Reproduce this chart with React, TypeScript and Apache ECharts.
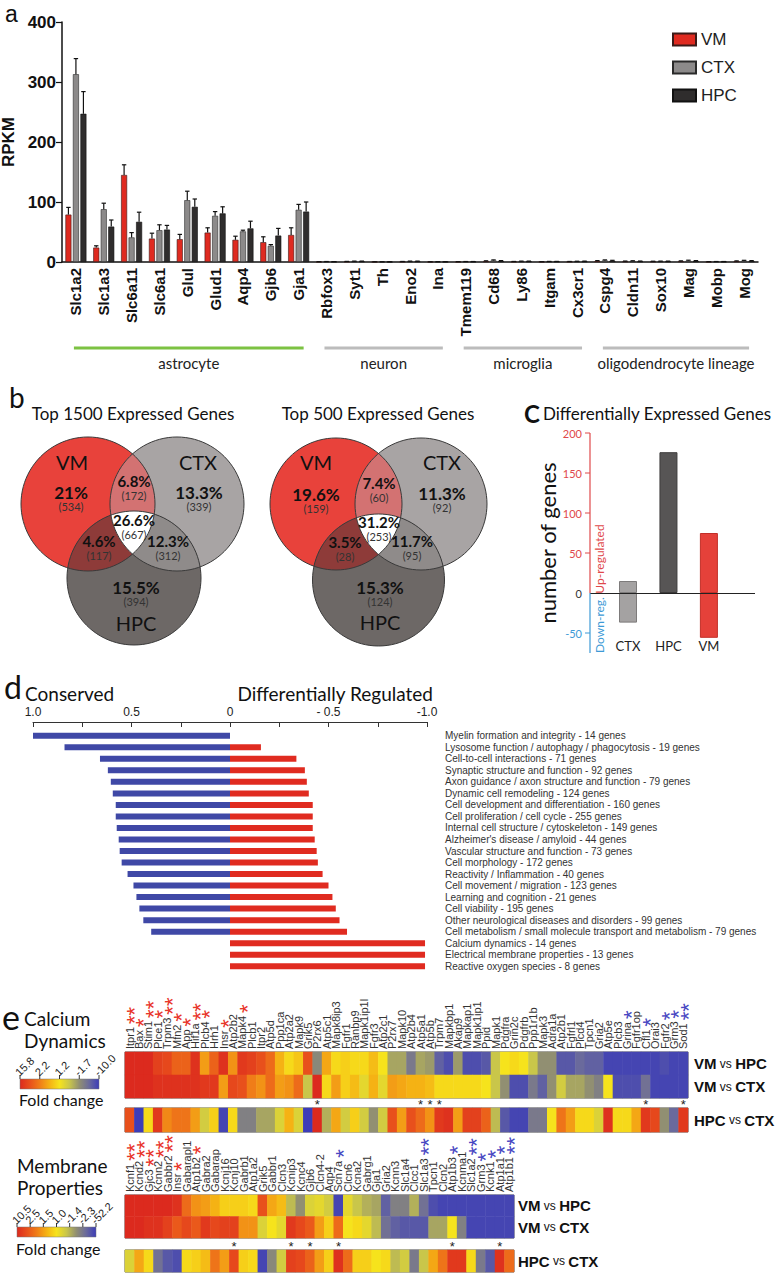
import React, { useEffect, useRef } from 'react';
import * as echarts from 'echarts';

const AR = '"Liberation Sans", Arial, sans-serif';
const MY = 'Lato, "Open Sans", sans-serif';
const NR = '"Liberation Sans Narrow", "Liberation Sans", Arial, sans-serif';

// ---------- panel a ----------
const genesA = ['Slc1a2','Slc1a3','Slc6a11','Slc6a1','Glul','Glud1','Aqp4','Gjb6','Gja1','Rbfox3','Syt1','Th','Eno2','Ina','Tmem119','Cd68','Ly86','Itgam','Cx3cr1','Cspg4','Cldn11','Sox10','Mag','Mobp','Mog'];
const vmRpkm = [79,24,145,39,38,49,37,33,45,0.3,0.6,0.2,0.5,0.2,0.3,1.2,0.5,0.3,0.5,1.5,1,0.8,1.2,0.3,1.2];
const vmErr = [12,3,17,9,8,8,6,9,12,0.3,0.4,0.2,0.4,0.2,0.3,0.8,0.4,0.3,0.4,0.8,0.6,0.5,0.7,0.3,0.7];
const ctxRpkm = [313,88,41,53,103,77,51,27,87,0.5,1,0.2,1,0.3,0.5,2.5,1,0.6,0.8,2.5,1.5,1,2,0.5,2];
const ctxErr = [26,10,8,9,15,7,2,2,9,0.3,0.5,0.2,0.5,0.2,0.3,1,0.5,0.4,0.5,1,0.6,0.5,1,0.3,0.8];
const hpcRpkm = [247,59,67,54,92,81,56,44,84,0.4,1,0.2,1,0.3,0.5,1.5,1,0.6,1,2,1,1,1.5,0.5,1.5];
const hpcErr = [37,11,16,7,13,11,12,12,16,0.3,0.5,0.2,0.5,0.2,0.3,0.8,0.5,0.4,0.5,0.8,0.6,0.5,0.8,0.3,0.8];
const cellGroups = [
  { name: 'astrocyte', from: 0, to: 8, color: '#7cc242' },
  { name: 'neuron', from: 9, to: 13, color: '#bcbcbc' },
  { name: 'microglia', from: 14, to: 18, color: '#bcbcbc' },
  { name: 'oligodendrocyte lineage', from: 19, to: 24, color: '#bcbcbc' },
];

// ---------- panel b ----------
const venn1Pct = ['21%', '13.3%', '15.5%', '6.8%', '4.6%', '12.3%', '26.6%'];
const venn1Cnt = ['(534)', '(339)', '(394)', '(172)', '(117)', '(312)', '(667)'];
const venn2Pct = ['19.6%', '11.3%', '15.3%', '7.4%', '3.5%', '11.7%', '31.2%'];
const venn2Cnt = ['(159)', '(92)', '(124)', '(60)', '(28)', '(95)', '(253)'];

// ---------- panel c ----------
const degCats = ['CTX', 'HPC', 'VM'];
const degUp = [15, 176, 75];
const degDown = [-37, -1, -56];
const degTicks = [-50, 0, 50, 100, 150, 200];

// ---------- panel d ----------
const goTerms = [
  'Myelin formation and integrity - 14 genes',
  'Lysosome function / autophagy / phagocytosis - 19 genes',
  'Cell-to-cell interactions - 71 genes',
  'Synaptic structure and function - 92 genes',
  'Axon guidance / axon structure and function - 79 genes',
  'Dynamic cell remodeling - 124 genes',
  'Cell development and differentiation - 160 genes',
  'Cell proliferation / cell cycle - 255 genes',
  'Internal cell structure / cytoskeleton - 149 genes',
  "Alzheimer's disease / amyloid - 44 genes",
  'Vascular structure and function - 73 genes',
  'Cell morphology - 172 genes',
  'Reactivity / Inflammation - 40 genes',
  'Cell movement / migration - 123 genes',
  'Learning and cognition - 21 genes',
  'Cell viability - 195 genes',
  'Other neurological diseases and disorders - 99 genes',
  'Cell metabolism / small molecule transport and metabolism - 79 genes',
  'Calcium dynamics - 14 genes',
  'Electrical membrane properties - 13 genes',
  'Reactive oxygen species - 8 genes',
];
const goConserved = [1.0, 0.84, 0.66, 0.62, 0.605, 0.595, 0.58, 0.58, 0.575, 0.565, 0.56, 0.55, 0.52, 0.49, 0.475, 0.46, 0.44, 0.40, 0, 0, 0];
const goDiff = [0, -0.157, -0.337, -0.38, -0.39, -0.40, -0.42, -0.42, -0.42, -0.43, -0.44, -0.446, -0.47, -0.50, -0.52, -0.537, -0.556, -0.594, -0.99, -0.99, -0.99];

// ---------- panel e (levels on colour scale: 0 red ... 4 blue) ----------
const caGenes = ['Itpr1','Bax','Stim1','Plce1','Trpm3','Mfn2','App','Hif1a','Plcb4','Hrh1','Insr','Atp2b2','Mapk4','Plcb1','Itpr2','Atp5d','Ppp1ca','Atp2a2','Mapk9','Grik5','P2rx6','Atp5c1','Mapk8ip3','Fgfr1','Ranbp9','Mapk1ip1l','Fgfr3','Atp2c1','P2rx7','Mapk10','Atp2b4','Atp5a1','Atp5b','Trpm7','Mapkbp1','Akap9','Mapkap1','Mapk1ip1','Ppid','Mapk1','Pdgfra','Grin2c','Pdgfrb','Ppp1r1b','Mapk3','Adra1a','Atp2b1','Fgfrl1','Plcd4','Tpcn1','Gria2','Atp5e','Plcb3','Grina','Fgfr1op','Cfl1','Orai3','Fgfr2','Grm3','Sod1'];
const caStars = [2,1,2,1,2,1,1,2,1,0,1,0,1,0,0,0,0,0,0,0,0,0,0,0,0,0,0,0,0,0,0,0,0,0,0,0,0,0,0,0,0,0,0,0,0,0,0,0,0,0,0,0,0,-1,0,-1,0,-1,-1,-2];
const caVmHpc = [0,0,0,0.3,0.4,0.7,0.7,0.1,1.3,0.7,0.1,1.2,0.2,0.3,0.5,0.8,1.5,1.9,1.7,0.5,3.1,1.4,1.9,1.8,1.9,1.9,1.6,2,2.8,2.8,3.3,2.8,2.9,3.6,3.8,2.9,3.8,3.8,3.7,2.5,2,1.9,2,2.5,3,3,3.7,3.7,3.5,3.6,3.6,3.9,3.9,3.9,3.9,3.9,3.9,3.8,3.9,3.9];
const caVmCtx = [0,0,0,0.1,0.1,0.1,0.1,0.1,0.2,0.2,1.3,0.4,0.5,1.0,1.2,0.8,1.3,1.2,0.8,2.5,0,1.9,1.3,1.8,1.6,2.2,1.5,2.2,1.3,1.4,1.5,1.5,1.6,1.9,1.9,1.9,1.9,1.9,2,2.5,3,3.8,3.8,3.3,3.6,3,2.4,2.8,2.8,3,3.2,2,3.8,3.8,3.8,3.4,3.9,3.9,3.9,3.9];
const caHpcCtx = [0.5,4,1.9,0.2,1.1,0.9,0.9,1.3,2.4,1.8,3.9,1.9,3.2,3.2,2.8,2.8,2.3,1.5,2.3,4,0,2.7,1.4,2.4,1.8,2.4,3,2.4,0.5,1.3,0.5,0.8,1.2,0.2,0.1,1.3,0.3,0.3,0.7,2.6,3.7,3.9,3.9,3.3,3.3,2,0.9,1.3,1.9,1.9,2.3,0.1,1.9,1.9,1.4,0.2,0.4,3,3.5,0.2];
const caSig = ['P2rx6', 'Atp5a1', 'Atp5b', 'Trpm7', 'Cfl1', 'Sod1'];
const caLegend = ['15.8', '2.2', '1.2', '-1.7', '-10.0'];

const memGenes = ['Kcnf1','Kcnd2','Gjc3','Kcnn2','Gabbr2','Insr','Gabarapl1','Atp1b2','Gabra2','Gabarap','Kcnj16','Kcnj10','Gabrb1','Atp1a2','Grik5','Gabbr1','Clcn3','Kcnip3','Kcnc4','Gjb6','Clcn4-2','Aqp4','Scn7a','Clcn6','Kcna2','Gabrg1','Gja1','Gria2','Kcnn3','Slc1a4','Clcc1','Slc1a3','Tpcn1','Clcn2','Atp1b3','Kcnma1','Slc1a2','Grm3','Kcnk1','Atp1a1','Atp1b1'];
const memStars = [2,2,2,2,2,1,0,1,0,0,0,0,0,0,0,0,0,0,0,0,0,0,-1,0,0,0,0,0,0,0,0,-2,0,0,-1,0,-2,-1,-1,-1,-2];
const memVmHpc = [0,0,0,0,0,0.1,0.8,1.2,1.3,1.5,1.8,1.8,1.8,1.9,0.5,1.4,1.6,2.6,3.0,2.3,2.2,2.4,3.9,2.2,2.5,2.7,2.8,3.6,3.2,3.2,2.7,3.4,3.8,3.9,3.9,3.9,3.9,3.9,3.9,3.9,3.9];
const memVmCtx = [0,0,0.1,0.1,0.3,0.6,0.4,0.6,0.2,0.4,0.3,0.3,1.2,1.2,2.3,2,2.2,0.2,0.4,0.6,1.3,1.8,0.8,2,1.9,2.2,2.6,3.4,3.6,3.7,3.7,3.7,2.8,2.8,2,3.2,3.9,3.9,3.9,3.9,3.9];
const memHpcCtx = [2.3,1.4,1.9,3.4,3.7,3.8,1.9,1.8,1.6,0.9,1.3,0.4,1.8,1.9,3.9,3.1,2.4,0.3,0.4,0.7,1.3,1.8,0.1,0.8,1.8,1.8,2,1.9,2.6,2.4,3.3,2.5,1.4,0.9,0.2,0.2,1.9,3.3,3.7,0.1,0.8];
const memSig = ['Kcnj10', 'Kcnip3', 'Gjb6', 'Scn7a', 'Atp1b3', 'Atp1a1'];
const memLegend = ['10.5', '2.5', '1.5', '1.0', '-1.4', '-2.3', '-52.2'];

const heatColors = ['#dc2a1e', '#e8501c', '#f07d18', '#f5b214', '#f6e31c', '#c9c64a', '#918f72', '#6a6a9c', '#3c3cb8'];
const GENE_FONT = `11px ${NR}`;

type Circ = { cx: number; cy: number; r: number };
function regionPoints(cs: Circ[]): number[][] {
  const pts: number[][] = [];
  cs.forEach((c, i) => {
    for (let k = 0; k < 720; k++) {
      const a = (k / 720) * Math.PI * 2;
      const x = c.cx + c.r * Math.cos(a);
      const y = c.cy + c.r * Math.sin(a);
      if (cs.every((o, j) => j === i || Math.hypot(x - o.cx, y - o.cy) <= o.r + 0.01)) pts.push([x, y]);
    }
  });
  const mx = pts.reduce((s, p) => s + p[0], 0) / pts.length;
  const my = pts.reduce((s, p) => s + p[1], 0) / pts.length;
  pts.sort((p, q) => Math.atan2(p[1] - my, p[0] - mx) - Math.atan2(q[1] - my, q[0] - mx));
  return pts;
}

function txt(x: number, y: number, text: string, font: string, fill = '#111', align = 'center', vAlign = 'middle', rotation = 0): any {
  return {
    type: 'text', x, y, rotation, silent: true, z: 50,
    style: { text, font, fill, textAlign: align, textVerticalAlign: vAlign, align, verticalAlign: vAlign },
  };
}

function venn(circles: Circ[], pct: string[], cnt: string[], pos: number[][], names: number[][]): any[] {
  const [vm, ctx, hpc] = circles;
  const els: any[] = [];
  const fills = ['#e8423b', '#a8a4a4', '#6d6866'];
  circles.forEach((c, i) => els.push({ type: 'circle', shape: { cx: c.cx, cy: c.cy, r: c.r }, style: { fill: fills[i], stroke: 'none' }, z: 10 }));
  const regions: [Circ[], string][] = [[[vm, ctx], '#d37272'], [[vm, hpc], '#8e3b39'], [[ctx, hpc], '#8f8b8a'], [[vm, ctx, hpc], '#ffffff']];
  regions.forEach(([cs, col]) => els.push({ type: 'polygon', shape: { points: regionPoints(cs) }, style: { fill: col, stroke: 'none' }, z: 11 }));
  circles.forEach((c) => els.push({ type: 'circle', shape: { cx: c.cx, cy: c.cy, r: c.r }, style: { fill: 'none', stroke: '#3a3a3a', lineWidth: 1 }, z: 12 }));
  pct.forEach((p, i) => {
    const big = i < 3;
    els.push(txt(pos[i][0], pos[i][1], p, `bold ${big ? 17 : 15}px ${MY}`, '#111'));
    els.push(txt(pos[i][0], pos[i][1] + 14.5, cnt[i], `11px ${MY}`, '#333'));
  });
  ['VM', 'CTX', 'HPC'].forEach((n, i) => els.push(txt(names[i][0], names[i][1], n, `20px ${MY}`, '#111')));
  return els;
}

const rowRich = {
  b: { fontSize: 15, fontWeight: 'bold', fontFamily: AR, color: '#111' },
  n: { fontSize: 12, fontFamily: AR, color: '#111' },
};
const rowLabel = (v: string) => {
  const p = v.split(' ');
  return `{b|${p[0]}} {n|${p[1]}} {b|${p[2]}}`;
};

function buildOption(): any {
  const gridBase = { outerBoundsMode: 'none', containLabel: false };
  const heatGrid = { ...gridBase, show: true, borderColor: '#555', borderWidth: 1, backgroundColor: 'transparent' };
  const errData: number[][] = [];
  [[vmRpkm, vmErr], [ctxRpkm, ctxErr], [hpcRpkm, hpcErr]].forEach(([vals, errs], k) => {
    vals.forEach((v, i) => errData.push([i, v, errs[i], k]));
  });
  const degColors = ['#a4a2a2', '#575555', '#e5413a'];
  const degBorders = ['#7d7b7b', '#3e3c3c', '#c22f29'];
  const hiddenCat = { axisLine: { show: false }, axisTick: { show: false }, splitLine: { show: false } };

  return {
    animation: false,
    backgroundColor: '#ffffff',
    legend: {
      data: ['VM', 'CTX', 'HPC'], orient: 'vertical', left: 667, top: 26,
      itemWidth: 23, itemHeight: 12, itemGap: 11, icon: 'rect',
      textStyle: { fontFamily: AR, fontSize: 17, color: '#222' },
    },
    visualMap: {
      type: 'continuous', min: 0, max: 4, seriesIndex: [8, 9, 10, 11], dimension: 2, show: false,
      inRange: { color: heatColors },
    },
    grid: [
      { ...gridBase, left: 62, top: 22, width: 696, height: 240 },
      { ...gridBase, left: 590, top: 433, width: 165, height: 220 },
      { ...gridBase, left: 33, top: 730, width: 394, height: 242 },
      { ...heatGrid, left: 125, top: 1052, width: 563, height: 46 },
      { ...heatGrid, left: 125, top: 1108, width: 563, height: 24 },
      { ...heatGrid, left: 125, top: 1195, width: 389, height: 43 },
      { ...heatGrid, left: 125, top: 1250, width: 389, height: 22 },
    ],
    xAxis: [
      {
        gridIndex: 0, type: 'category', data: genesA,
        axisLine: { lineStyle: { color: '#111', width: 1.5 } },
        axisTick: { alignWithLabel: true, length: 5, lineStyle: { color: '#111', width: 1.2 } },
        axisLabel: { rotate: 90, interval: 0, fontFamily: AR, fontWeight: 'bold', fontSize: 15, color: '#111', margin: 6 },
      },
      {
        gridIndex: 1, type: 'value', min: -0.94, max: 3.14, ...hiddenCat,
        axisLabel: { customValues: [0, 1, 2], formatter: (v: number) => degCats[Math.round(v)] ?? '', margin: -14, fontFamily: MY, fontSize: 13, color: '#222' },
      },
      {
        gridIndex: 2, type: 'value', position: 'top', inverse: true, min: -1, max: 1, interval: 0.25, offset: 8,
        axisLine: { show: true, lineStyle: { color: '#333', width: 1 } },
        axisTick: { show: true, inside: true, length: 5, lineStyle: { color: '#333' } },
        splitLine: { show: false },
        axisLabel: {
          margin: 4, fontFamily: AR, fontSize: 12, color: '#222',
          formatter: (v: number) => (({ '1': '1.0', '0.5': '0.5', '0': '0', '-0.5': '- 0.5', '-1': '-1.0' } as any)[String(v)] ?? ''),
        },
      },
      { gridIndex: 3, type: 'category', data: caGenes, position: 'top', ...hiddenCat, axisLabel: { show: false } },
      { gridIndex: 4, type: 'category', data: caGenes, position: 'top', ...hiddenCat, axisLabel: { interval: 0, margin: -3, fontFamily: AR, fontSize: 13, color: '#222', formatter: (v: string) => (caSig.includes(v) ? '*' : '') } },
      { gridIndex: 5, type: 'category', data: memGenes, position: 'top', ...hiddenCat, axisLabel: { show: false } },
      { gridIndex: 6, type: 'category', data: memGenes, position: 'top', ...hiddenCat, axisLabel: { interval: 0, margin: -3, fontFamily: AR, fontSize: 13, color: '#222', formatter: (v: string) => (memSig.includes(v) ? '*' : '') } },
    ],
    yAxis: [
      {
        gridIndex: 0, type: 'value', min: 0, max: 400, interval: 100,
        axisLine: { show: true, lineStyle: { color: '#111', width: 1.5 } },
        axisTick: { show: true, length: 6, lineStyle: { color: '#111', width: 1.2 } },
        splitLine: { show: false },
        axisLabel: { fontFamily: AR, fontWeight: 'bold', fontSize: 17, color: '#111', margin: 6 },
        name: 'RPKM', nameLocation: 'middle', nameGap: 28,
        nameTextStyle: { fontFamily: AR, fontWeight: 'bold', fontSize: 17, color: '#111' },
      },
      {
        gridIndex: 1, type: 'value', min: -75, max: 200,
        axisLine: { show: false }, axisTick: { show: false }, splitLine: { show: false },
        axisLabel: {
          customValues: degTicks, fontFamily: MY, fontSize: 11, margin: 8,
          color: (v: any) => (Number(v) > 0 ? '#e0484a' : Number(v) < 0 ? '#3d9ad6' : '#333'),
        },
        name: 'number of genes', nameLocation: 'middle', nameGap: 22,
        nameTextStyle: { fontFamily: MY, fontSize: 22, color: '#111' },
      },
      {
        gridIndex: 2, type: 'category', data: goTerms, inverse: true, position: 'right', ...hiddenCat,
        axisLabel: { margin: 18, fontFamily: AR, fontSize: 10, color: '#333', align: 'left', interval: 0 },
      },
      { gridIndex: 3, type: 'category', data: ['VM vs HPC', 'VM vs CTX'], inverse: true, position: 'right', ...hiddenCat, axisLabel: { margin: 6, formatter: rowLabel, rich: rowRich } },
      { gridIndex: 4, type: 'category', data: ['HPC vs CTX'], position: 'right', ...hiddenCat, axisLabel: { margin: 6, formatter: rowLabel, rich: rowRich } },
      { gridIndex: 5, type: 'category', data: ['VM vs HPC', 'VM vs CTX'], inverse: true, position: 'right', ...hiddenCat, axisLabel: { margin: 4, formatter: rowLabel, rich: rowRich } },
      { gridIndex: 6, type: 'category', data: ['HPC vs CTX'], position: 'right', ...hiddenCat, axisLabel: { margin: 4, formatter: rowLabel, rich: rowRich } },
    ],
    series: [
      { type: 'bar', name: 'VM', xAxisIndex: 0, yAxisIndex: 0, data: vmRpkm, barWidth: 6, barGap: '25%', itemStyle: { color: '#df2a20', borderColor: '#3b1a18', borderWidth: 0.6 } },
      { type: 'bar', name: 'CTX', xAxisIndex: 0, yAxisIndex: 0, data: ctxRpkm, barWidth: 6, barGap: '25%', itemStyle: { color: '#8c8a8a', borderColor: '#2a2a2a', borderWidth: 0.6 } },
      { type: 'bar', name: 'HPC', xAxisIndex: 0, yAxisIndex: 0, data: hpcRpkm, barWidth: 6, barGap: '25%', itemStyle: { color: '#2f2d2d', borderColor: '#111', borderWidth: 0.6 } },
      {
        type: 'custom', xAxisIndex: 0, yAxisIndex: 0, data: errData, encode: { x: 0, y: 1 }, z: 5,
        renderItem: (params: any, api: any) => {
          const i = api.value(0), v = api.value(1), e = api.value(2), k = api.value(3);
          const base = api.coord([i, v]);
          const top = api.coord([i, v + e]);
          const x = base[0] + (k - 1) * 7.5;
          return {
            type: 'group',
            children: [
              { type: 'line', shape: { x1: x, y1: base[1], x2: x, y2: top[1] }, style: { stroke: '#111', lineWidth: 1.2 } },
              { type: 'line', shape: { x1: x - 2.2, y1: top[1], x2: x + 2.2, y2: top[1] }, style: { stroke: '#111', lineWidth: 1.2 } },
            ],
          };
        },
      },
      {
        type: 'bar', xAxisIndex: 1, yAxisIndex: 1, barWidth: 18, barGap: '-100%',
        data: degUp.map((v, i) => ({ value: [i, v], itemStyle: { color: degColors[i], borderColor: degBorders[i], borderWidth: 1 } })),
        markLine: {
          silent: true, symbol: ['none', 'none'], label: { show: false },
          data: [{ yAxis: 0, lineStyle: { color: '#222', width: 1, type: 'solid' } }],
        },
      },
      {
        type: 'bar', xAxisIndex: 1, yAxisIndex: 1, barWidth: 18, barGap: '-100%',
        data: degDown.map((v, i) => ({ value: [i, v], itemStyle: { color: degColors[i], borderColor: degBorders[i], borderWidth: 1 } })),
      },
      { type: 'bar', xAxisIndex: 2, yAxisIndex: 2, data: goConserved, barWidth: 6, barGap: '-100%', itemStyle: { color: '#3f48a6' } },
      { type: 'bar', xAxisIndex: 2, yAxisIndex: 2, data: goDiff, barWidth: 6, barGap: '-100%', itemStyle: { color: '#e02b20' } },
      { type: 'heatmap', xAxisIndex: 3, yAxisIndex: 3, data: [...caVmHpc.map((v, i) => [i, 0, v]), ...caVmCtx.map((v, i) => [i, 1, v])], itemStyle: { borderWidth: 0 } },
      { type: 'heatmap', xAxisIndex: 4, yAxisIndex: 4, data: caHpcCtx.map((v, i) => [i, 0, v]), itemStyle: { borderWidth: 0 } },
      { type: 'heatmap', xAxisIndex: 5, yAxisIndex: 5, data: [...memVmHpc.map((v, i) => [i, 0, v]), ...memVmCtx.map((v, i) => [i, 1, v])], itemStyle: { borderWidth: 0 } },
      { type: 'heatmap', xAxisIndex: 6, yAxisIndex: 6, data: memHpcCtx.map((v, i) => [i, 0, v]), itemStyle: { borderWidth: 0 } },
    ],
  };
}

function foldLegend(x0: number, y0: number, w: number, labels: string[]): any[] {
  const els: any[] = [];
  els.push({
    type: 'rect', shape: { x: x0, y: y0, width: w, height: 10 }, z: 20,
    style: {
      stroke: '#777', lineWidth: 0.5,
      fill: { type: 'linear', x: 0, y: 0, x2: 1, y2: 0, colorStops: heatColors.map((c, i) => ({ offset: i / (heatColors.length - 1), color: c })) },
    },
  });
  labels.forEach((l, i) => {
    const x = x0 + (i * w) / (labels.length - 1);
    els.push({ type: 'line', shape: { x1: x, y1: y0 - 4, x2: x, y2: y0 }, style: { stroke: '#333', lineWidth: 1 }, z: 20 });
    els.push(txt(x - 3, y0 - 5, l, `11px ${AR}`, '#222', 'left', 'middle', Math.PI / 4));
  });
  return els;
}

function geneLabels(chart: any, axisIndex: number, genes: string[], stars: number[], top: number): any[] {
  const els: any[] = [];
  const ctx = document.createElement('canvas').getContext('2d')!;
  ctx.font = GENE_FONT;
  genes.forEach((g, i) => {
    const x = chart.convertToPixel({ xAxisIndex: axisIndex }, g);
    const y0 = top - 3;
    els.push(txt(x, y0, g, GENE_FONT, '#333', 'left', 'middle', Math.PI / 2));
    const n = Math.abs(stars[i]);
    if (n) {
      const w = ctx.measureText(g).width;
      const col = stars[i] > 0 ? '#e8352b' : '#4747c2';
      els.push(txt(x + 4.8, y0 - w - 3, '*'.repeat(n), `22px ${AR}`, col, 'left', 'middle', Math.PI / 2));
    }
  });
  return els;
}

function buildGraphics(chart: any): any[] {
  const els: any[] = [];
  // panel a
  els.push(txt(5, 14, 'a', `23px ${AR}`, '#111', 'left'));
  cellGroups.forEach((g) => {
    const x1 = chart.convertToPixel({ xAxisIndex: 0 }, genesA[g.from]) - 2;
    const x2 = chart.convertToPixel({ xAxisIndex: 0 }, genesA[g.to]) + 5;
    els.push({ type: 'line', shape: { x1, y1: 348, x2, y2: 348 }, style: { stroke: g.color, lineWidth: 3 }, z: 20 });
    els.push(txt((x1 + x2) / 2, 363, g.name, `15px ${MY}`, '#222'));
  });
  // panel b
  els.push(txt(9, 397, 'b', `28px ${MY}`, '#111', 'left'));
  els.push(txt(133, 413, 'Top 1500 Expressed Genes', `17px ${MY}`, '#111'));
  els.push(txt(378, 413, 'Top 500 Expressed Genes', `17px ${MY}`, '#111'));
  els.push(...venn(
    [{ cx: 88, cy: 504, r: 67 }, { cx: 177, cy: 504, r: 67 }, { cx: 134, cy: 578, r: 67 }],
    venn1Pct, venn1Cnt,
    [[71, 492], [199, 492], [136, 587], [134, 481], [99, 541], [168, 541], [134, 520]],
    [[72, 462], [198, 462], [136, 623]],
  ));
  els.push(...venn(
    [{ cx: 336, cy: 504, r: 66 }, { cx: 421, cy: 504, r: 66 }, { cx: 378.5, cy: 580, r: 66 }],
    venn2Pct, venn2Cnt,
    [[316, 494], [442, 493], [380, 587], [379, 483], [345, 542], [412, 541], [379, 522]],
    [[316, 462], [442, 462], [380, 622]],
  ));
  // panel c
  els.push(txt(524, 413, 'C', `bold 24px ${MY}`, '#111', 'left'));
  els.push(txt(543, 413, 'Differentially Expressed Genes', `17px ${MY}`, '#111', 'left'));
  const ax = chart.convertToPixel({ xAxisIndex: 1 }, -0.94);
  const yTop = chart.convertToPixel({ yAxisIndex: 1 }, 200);
  const yZero = chart.convertToPixel({ yAxisIndex: 1 }, 0);
  const yBot = chart.convertToPixel({ yAxisIndex: 1 }, -75);
  els.push({ type: 'line', shape: { x1: ax, y1: yTop, x2: ax, y2: yZero }, style: { stroke: '#e0484a', lineWidth: 1.2 }, z: 20 });
  els.push({ type: 'line', shape: { x1: ax, y1: yZero, x2: ax, y2: yBot }, style: { stroke: '#3d9ad6', lineWidth: 1.2 }, z: 20 });
  degTicks.forEach((v) => {
    if (v === 0) return;
    const y = chart.convertToPixel({ yAxisIndex: 1 }, v);
    els.push({ type: 'line', shape: { x1: ax - 5, y1: y, x2: ax, y2: y }, style: { stroke: v > 0 ? '#e0484a' : '#3d9ad6', lineWidth: 1 }, z: 20 });
  });
  els.push(txt(ax + 9, 559, 'Up-regulated', `12px ${MY}`, '#e0484a', 'center', 'middle', Math.PI / 2));
  els.push(txt(ax + 9, 625, 'Down-reg.', `12px ${MY}`, '#3d9ad6', 'center', 'middle', Math.PI / 2));
  // panel d
  els.push(txt(4, 686, 'd', `32px ${MY}`, '#111', 'left'));
  els.push(txt(25, 693, 'Conserved', `19px ${MY}`, '#111', 'left'));
  els.push(txt(433, 693, 'Differentially Regulated', `19px ${MY}`, '#111', 'right'));
  // panel e
  els.push(txt(2, 1016, 'e', `34px ${MY}`, '#111', 'left'));
  els.push(txt(24, 1018, 'Calcium', `19px ${MY}`, '#111', 'left'));
  els.push(txt(24, 1040, 'Dynamics', `19px ${MY}`, '#111', 'left'));
  els.push(...foldLegend(20, 1079, 79, caLegend));
  els.push(txt(19, 1099, 'Fold change', `16px ${MY}`, '#111', 'left'));
  els.push(txt(17, 1165, 'Membrane', `19px ${MY}`, '#111', 'left'));
  els.push(txt(17, 1187, 'Properties', `19px ${MY}`, '#111', 'left'));
  els.push(...foldLegend(17, 1227, 79, memLegend));
  els.push(txt(16, 1248, 'Fold change', `16px ${MY}`, '#111', 'left'));
  els.push(...geneLabels(chart, 3, caGenes, caStars, 1052));
  els.push(...geneLabels(chart, 5, memGenes, memStars, 1195));
  return els;
}

export default function App() {
  const ref = useRef<HTMLDivElement>(null);
  useEffect(() => {
    const chart = echarts.init(ref.current!, null, { renderer: 'svg' });
    chart.setOption(buildOption());
    chart.setOption({ graphic: { elements: buildGraphics(chart) } });
    return () => chart.dispose();
  }, []);
  return <div ref={ref} style={{ position: 'absolute', left: 0, top: 0, width: 777, height: 1273, background: '#fff' }} />;
}
